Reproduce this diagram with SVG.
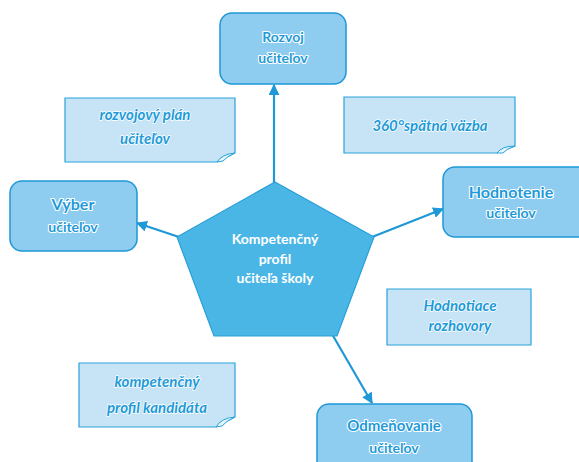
<svg xmlns="http://www.w3.org/2000/svg" width="579" height="462" viewBox="0 0 579 462">
  <defs>
    <style>
      .box { fill: #8fcdf0; stroke: #1e98d6; stroke-width: 1.5; }
      .note { fill: #c6e4f6; stroke: #2aa3dc; stroke-width: 1.2; }
      .flap { fill: #e6f4fc; stroke: #2aa3dc; stroke-width: 1; }
      .hub { fill: #4ab6e6; stroke: #2a9fd8; stroke-width: 1.2; }
      .btxt { font-family: Lato, "Open Sans", sans-serif; font-weight: bold; fill: #1f9ad8; stroke: #ffffff; stroke-width: 2.2; paint-order: stroke; stroke-linejoin: round; text-anchor: middle; }
      .ntxt { font-family: Lato, "Open Sans", sans-serif; font-weight: bold; font-style: italic; font-size: 15px; fill: #1f9ad8; stroke: #ffffff; stroke-width: 1.5; paint-order: stroke; stroke-linejoin: round; text-anchor: middle; }
      .htxt { font-family: Lato, "Open Sans", sans-serif; font-weight: bold; font-size: 14px; fill: #ffffff; text-anchor: middle; }
      .link { stroke: #1e98d6; stroke-width: 2.2; fill: none; marker-end: url(#arrow); }
    </style>
    <marker id="arrow" viewBox="0 0 10 10" refX="9" refY="5" markerWidth="5" markerHeight="5" orient="auto" markerUnits="strokeWidth">
      <path d="M0,0 L10,5 L0,10 Z" fill="#1e98d6"/>
    </marker>
  </defs>

  <!-- notes -->
  <g id="note-plan">
    <path class="note" d="M65,98 H235 V153 L217,162 H65 Z"/>
    <path class="flap" d="M217,162 Q222,154 235,153 Q226,157 223,161 Z"/>
    <text class="ntxt" x="145" y="120">rozvojový plán</text>
    <text class="ntxt" x="145" y="144">učiteľov</text>
  </g>
  <g id="note-feedback">
    <path class="note" d="M344,97 H515 V146 L497,153 H344 Z"/>
    <path class="flap" d="M497,153 Q502,146 515,146 Q506,149 503,153 Z"/>
    <text class="ntxt" x="430" y="131">360°spätná väzba</text>
  </g>
  <g id="note-interviews">
    <path class="note" d="M387,289 H531 V345 H387 Z"/>
    <text class="ntxt" x="460" y="311">Hodnotiace</text>
    <text class="ntxt" x="460" y="331">rozhovory</text>
  </g>
  <g id="note-candidate">
    <path class="note" d="M79,363 H235 V417 L216,427 H79 Z"/>
    <path class="flap" d="M216,427 Q221,418 235,417 Q226,421 222,426 Z"/>
    <text class="ntxt" x="157" y="387">kompetenčný</text>
    <text class="ntxt" x="157" y="413">profil kandidáta</text>
  </g>

  <!-- connectors -->
  <g id="connectors">
    <line class="link" x1="274" y1="183" x2="274" y2="85"/>
    <line class="link" x1="179" y1="237" x2="137" y2="223"/>
    <line class="link" x1="372" y1="237" x2="443" y2="209"/>
    <line class="link" x1="332" y1="334" x2="372" y2="403"/>
  </g>

  <!-- hub -->
  <g id="hub">
    <polygon class="hub" points="275,182 374,237 337,336 214,336 177,237"/>
    <text class="htxt" x="275" y="244">Kompetenčný</text>
    <text class="htxt" x="275" y="264">profil</text>
    <text class="htxt" x="275" y="283">učiteľa školy</text>
  </g>

  <!-- boxes -->
  <g id="box-development">
    <rect class="box" x="220" y="13" width="126" height="71" rx="12"/>
    <text class="btxt" x="283" y="42" font-size="14">Rozvoj</text>
    <text class="btxt" x="283" y="63" font-size="14">učiteľov</text>
  </g>
  <g id="box-selection">
    <rect class="box" x="10" y="181" width="127" height="70" rx="12"/>
    <text class="btxt" x="73" y="210" font-size="16">Výber</text>
    <text class="btxt" x="73" y="232" font-size="14">učiteľov</text>
  </g>
  <g id="box-evaluation">
    <rect class="box" x="443" y="167" width="150" height="70" rx="12"/>
    <text class="btxt" x="511" y="198" font-size="16">Hodnotenie</text>
    <text class="btxt" x="511" y="218" font-size="14">učiteľov</text>
  </g>
  <g id="box-reward">
    <rect class="box" x="317" y="404" width="155" height="80" rx="12"/>
    <text class="btxt" x="394" y="431" font-size="15">Odmeňovanie</text>
    <text class="btxt" x="394" y="453" font-size="14">učiteľov</text>
  </g>
</svg>
